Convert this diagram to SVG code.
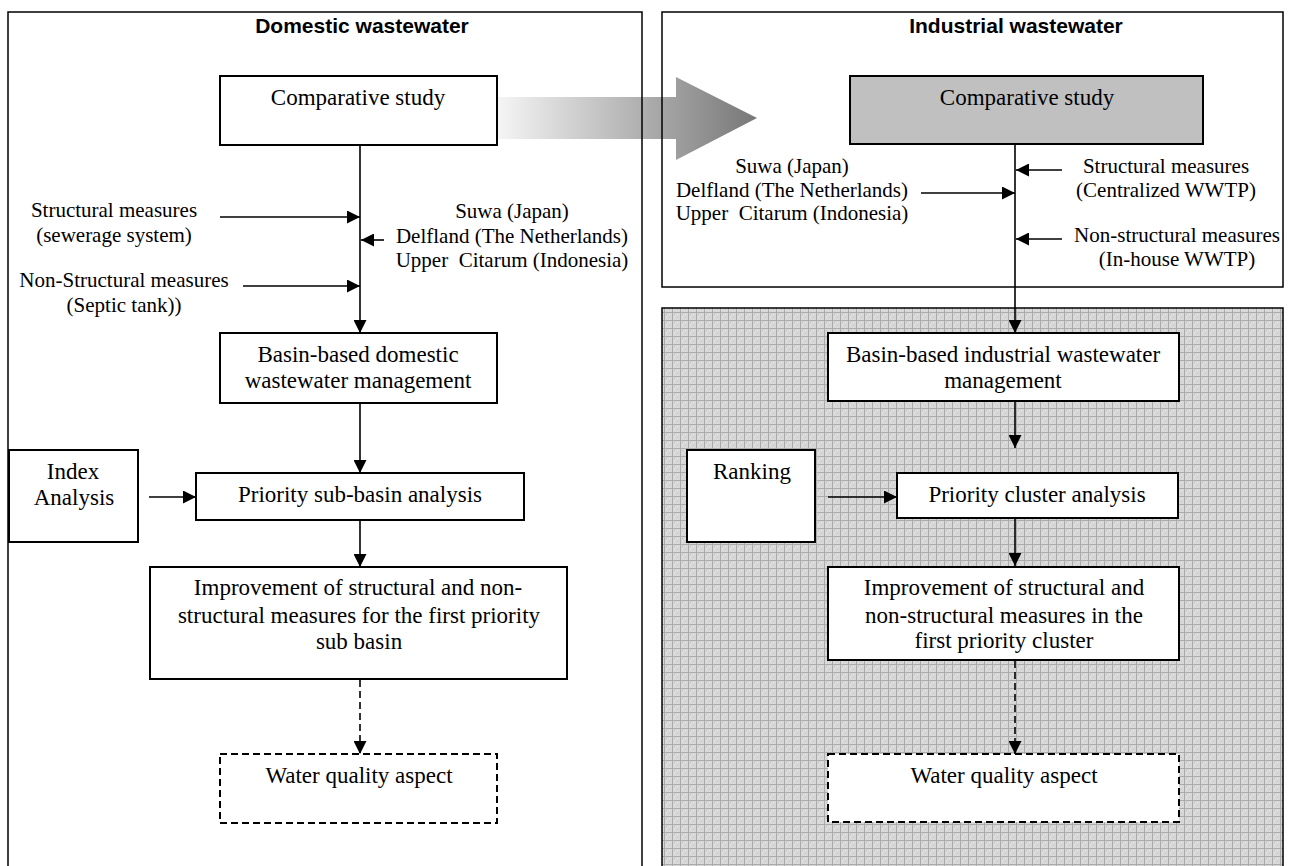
<svg xmlns="http://www.w3.org/2000/svg" width="1289" height="866" viewBox="0 0 1289 866">
<defs>
<style>
.t{font-family:"Liberation Serif","Times New Roman",serif;font-size:23px;fill:#000;text-anchor:middle}
.s{font-family:"Liberation Serif","Times New Roman",serif;font-size:21px;fill:#000;text-anchor:middle}
.h{font-family:"Liberation Sans",Arial,sans-serif;font-size:21px;font-weight:bold;fill:#000;text-anchor:middle}
.panel{fill:none;stroke:#000;stroke-width:1.5}
.box{fill:#fff;stroke:#000;stroke-width:2}
.dbox{fill:#fff;stroke:#000;stroke-width:2;stroke-dasharray:7,4}
.c{fill:none;stroke:#000;stroke-width:1.6}
.d{fill:none;stroke:#000;stroke-width:1.6;stroke-dasharray:7,4}
</style>
<marker id="ah" viewBox="0 0 13 13" refX="13" refY="6.5" markerWidth="13" markerHeight="13" markerUnits="userSpaceOnUse" orient="auto">
<path d="M0,0 L13,6.5 L0,13 Z" fill="#000"/>
</marker>
<linearGradient id="g" gradientUnits="userSpaceOnUse" x1="498" y1="0" x2="757" y2="0">
<stop offset="0" stop-color="#f5f5f5"/>
<stop offset="1" stop-color="#777"/>
</linearGradient>
<pattern id="grid" patternUnits="userSpaceOnUse" width="8" height="8">
<rect width="8" height="8" fill="#d8d8d8"/>
<rect x="2" y="2" width="1" height="1" fill="#c4c4c4"/>
<rect x="5" y="5" width="1" height="1" fill="#c4c4c4"/>
<rect x="5" y="2" width="1" height="1" fill="#e4e4e4"/>
<rect x="2" y="5" width="1" height="1" fill="#e4e4e4"/>
<rect width="8" height="1" fill="#ababab"/>
<rect width="1" height="8" fill="#ababab"/>
</pattern>
</defs>
<rect width="1289" height="866" fill="#fff"/>

<g id="transfer-arrow">
<path d="M498,97 L676,97 L676,77 L757,118 L676,160 L676,139 L498,139 Z" fill="url(#g)"/>
</g>

<g id="panel-domestic">
<rect class="panel" x="8" y="12" width="634" height="870"/>
<text class="h" x="362" y="33">Domestic wastewater</text>
</g>
<g id="panel-industrial">
<rect class="panel" x="662" y="12" width="621" height="275"/>
<text class="h" x="1016" y="33">Industrial wastewater</text>
</g>
<g id="panel-industrial-lower">
<rect x="662" y="308" width="621" height="570" fill="url(#grid)" stroke="#000" stroke-width="1.5"/>
</g>

<g id="connectors">
<line class="c" x1="360" y1="145" x2="360" y2="333" marker-end="url(#ah)"/>
<line class="c" x1="220" y1="217" x2="360" y2="217" marker-end="url(#ah)"/>
<line class="c" x1="384" y1="240" x2="361" y2="240" marker-end="url(#ah)"/>
<line class="c" x1="243" y1="286" x2="360" y2="286" marker-end="url(#ah)"/>
<line class="c" x1="360" y1="403" x2="360" y2="473" marker-end="url(#ah)"/>
<line class="c" x1="149" y1="497" x2="196" y2="497" marker-end="url(#ah)"/>
<line class="c" x1="360" y1="520" x2="360" y2="567" marker-end="url(#ah)"/>
<line class="d" x1="360" y1="680" x2="360" y2="754" marker-end="url(#ah)"/>

<line class="c" x1="1015" y1="144" x2="1015" y2="333" marker-end="url(#ah)"/>
<line class="c" x1="921" y1="193" x2="1015" y2="193" marker-end="url(#ah)"/>
<line class="c" x1="1062" y1="170" x2="1016" y2="170" marker-end="url(#ah)"/>
<line class="c" x1="1062" y1="239" x2="1016" y2="239" marker-end="url(#ah)"/>
<line class="c" x1="1015" y1="401" x2="1015" y2="448" marker-end="url(#ah)"/>
<line class="c" x1="828" y1="497" x2="897" y2="497" marker-end="url(#ah)"/>
<line class="c" x1="1015" y1="518" x2="1015" y2="566" marker-end="url(#ah)"/>
<line class="d" x1="1015" y1="661" x2="1015" y2="754" marker-end="url(#ah)"/>
</g>

<g id="d-comparative">
<rect class="box" x="220" y="76" width="277" height="69"/>
<text class="t" x="358" y="105">Comparative study</text>
</g>
<g id="d-structural">
<text class="s" x="114" y="217">Structural measures</text>
<text class="s" x="114" y="242">(sewerage system)</text>
</g>
<g id="d-cases">
<text class="s" x="512" y="218">Suwa (Japan)</text>
<text class="s" x="512" y="243">Delfland (The Netherlands)</text>
<text class="s" x="512" y="267" xml:space="preserve">Upper  Citarum (Indonesia)</text>
</g>
<g id="d-nonstructural">
<text class="s" x="124" y="287">Non-Structural measures</text>
<text class="s" x="124" y="312">(Septic tank))</text>
</g>
<g id="d-basin">
<rect class="box" x="220" y="333" width="277" height="70"/>
<text class="t" x="358" y="362">Basin-based domestic</text>
<text class="t" x="358" y="388">wastewater management</text>
</g>
<g id="d-index">
<rect class="box" x="9" y="450" width="129" height="92"/>
<text class="t" x="73" y="479">Index</text>
<text class="t" x="74" y="505">Analysis</text>
</g>
<g id="d-priority">
<rect class="box" x="196" y="473" width="328" height="47"/>
<text class="t" x="360" y="502">Priority sub-basin analysis</text>
</g>
<g id="d-improvement">
<rect class="box" x="150" y="567" width="417" height="112"/>
<text class="t" x="358" y="595">Improvement of structural and non-</text>
<text class="t" x="359" y="623">structural measures for the first priority</text>
<text class="t" x="359" y="649">sub basin</text>
</g>
<g id="d-water">
<rect class="dbox" x="220" y="754" width="277" height="69"/>
<text class="t" x="359" y="783">Water quality aspect</text>
</g>

<g id="i-comparative">
<rect x="850" y="76" width="353" height="68" fill="#c0c0c0" stroke="#000" stroke-width="2"/>
<text class="t" x="1027" y="105">Comparative study</text>
</g>
<g id="i-cases">
<text class="s" x="792" y="173">Suwa (Japan)</text>
<text class="s" x="792" y="197">Delfland (The Netherlands)</text>
<text class="s" x="792" y="220" xml:space="preserve">Upper  Citarum (Indonesia)</text>
</g>
<g id="i-structural">
<text class="s" x="1166" y="173">Structural measures</text>
<text class="s" x="1166" y="197">(Centralized WWTP)</text>
</g>
<g id="i-nonstructural">
<text class="s" x="1177" y="242">Non-structural measures</text>
<text class="s" x="1177" y="266">(In-house WWTP)</text>
</g>
<g id="i-basin">
<rect class="box" x="828" y="333" width="351" height="68"/>
<text class="t" x="1003" y="362">Basin-based industrial wastewater</text>
<text class="t" x="1003" y="388">management</text>
</g>
<g id="i-ranking">
<rect class="box" x="687" y="450" width="128" height="92"/>
<text class="t" x="752" y="479">Ranking</text>
</g>
<g id="i-priority">
<rect class="box" x="897" y="473" width="281" height="45"/>
<text class="t" x="1037" y="502">Priority cluster analysis</text>
</g>
<g id="i-improvement">
<rect class="box" x="828" y="567" width="351" height="93"/>
<text class="t" x="1004" y="595">Improvement of structural and</text>
<text class="t" x="1004" y="623">non-structural measures in the</text>
<text class="t" x="1004" y="648">first priority cluster</text>
</g>
<g id="i-water">
<rect class="dbox" x="828" y="754" width="351" height="68"/>
<text class="t" x="1004" y="783">Water quality aspect</text>
</g>
</svg>
